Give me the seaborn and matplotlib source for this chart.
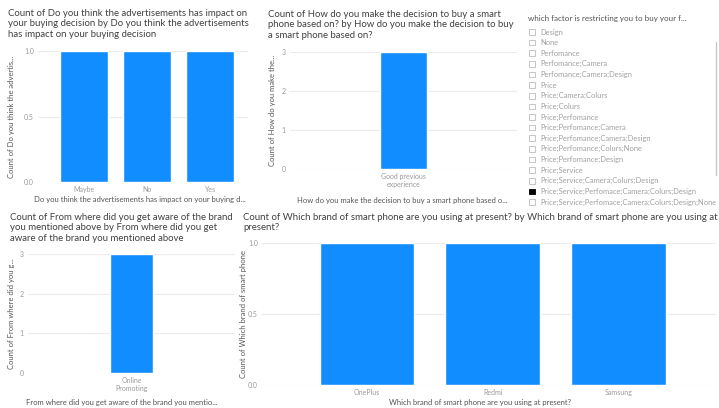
import matplotlib
matplotlib.use("Agg")
import matplotlib.pyplot as plt
import seaborn as sns
import pandas as pd
from matplotlib.lines import Line2D

# data
ads_categories = ["Maybe", "No", "Yes"]
ads_counts = [1, 1, 1]

decision_categories = ["Good previous\nexperience"]
decision_counts = [3]

aware_categories = ["Online\nPromoting"]
aware_counts = [3]

brand_categories = ["OnePlus", "Redmi", "Samsung"]
brand_counts = [1, 1, 1]

factor_items = [
    "Design", "None", "Perfomance", "Perfomance;Camera", "Perfomance;Camera;Design",
    "Price", "Price;Camera;Colurs", "Price;Colurs", "Price;Perfomance",
    "Price;Perfomance;Camera", "Price;Perfomance;Camera;Design",
    "Price;Perfomance;Colurs;None", "Price;Perfomance;Design", "Price;Service",
    "Price;Service;Camera;Colurs;Design",
    "Price;Service;Perfomace;Camera;Colurs;Design",
    "Price;Service;Perfomace;Camera;Colurs;Design;None",
]
factor_selected = "Price;Service;Perfomace;Camera;Colurs;Design"

BLUE = "#118DFF"
TITLE_C = "#404040"
LABEL_C = "#555555"
TICK_C = "#9a9a9a"

sns.set_theme(style="white")
plt.rcParams["font.family"] = ["Lato", "DejaVu Sans"]

W, H = 719, 408
fig = plt.figure(figsize=(W / 100, H / 100), dpi=100)
fig.patch.set_facecolor("white")


def px_axes(x0, y0, x1, y1):
    # pixel box (top-left origin) -> figure axes
    return fig.add_axes([x0 / W, 1 - y1 / H, (x1 - x0) / W, (y1 - y0) / H])


def bar_panel(box, cats, vals, width, xlim, yticks, yfmt, ylabel, xlabel,
              title, title_xy, ylabel_x, xlabel_xy):
    ax = px_axes(*box)
    df = pd.DataFrame({"cat": cats, "val": vals})
    sns.barplot(data=df, x="cat", y="val", color=BLUE, width=width,
                saturation=1, ax=ax, zorder=3)
    ax.set_xlim(*xlim)
    ax.set_ylim(yticks[0], yticks[-1])
    ax.set_yticks(yticks)
    ax.set_yticklabels([yfmt.format(t) for t in yticks])
    ax.grid(axis="y", color="#ececec", lw=0.8, zorder=0)
    ax.grid(axis="x", visible=False)
    for s in ax.spines.values():
        s.set_visible(False)
    ax.tick_params(length=0, labelsize=5, labelcolor=TICK_C, pad=3)
    ax.set_xlabel("")
    ax.set_ylabel("")
    fig.text(ylabel_x / W, 1 - (box[1] + box[3]) / 2 / H, ylabel, rotation=90,
             ha="center", va="center", fontsize=5.5, color=LABEL_C)
    fig.text(xlabel_xy[0] / W, 1 - xlabel_xy[1] / H, xlabel, ha="center",
             va="center", fontsize=5.5, color=LABEL_C)
    fig.text(title_xy[0] / W, 1 - title_xy[1] / H, title, ha="left", va="top",
             fontsize=6.9, color=TITLE_C, linespacing=1.2)
    return ax


bar_panel((38, 51, 248, 182), ads_categories, ads_counts, 0.76, (-0.73, 2.6),
          [0, 0.5, 1.0], "{:.1f}", "Count of Do you think the advertis...",
          "Do you think the advertisements has impact on your buying d...",
          "Count of Do you think the advertisements has impact on\n"
          "your buying decision by Do you think the advertisements\n"
          "has impact on your buying decision",
          (8, 9), 12, (140, 199))

bar_panel((290, 52, 517, 169), decision_categories, decision_counts, 0.207,
          (-0.5, 0.5), [0, 1, 2, 3], "{:.0f}", "Count of How do you make the...",
          "How do you make the decision to buy a smart phone based o...",
          "Count of How do you make the decision to buy a smart\n"
          "phone based on? by How do you make the decision to buy\n"
          "a smart phone based on?",
          (268, 10), 273, (402, 200))

bar_panel((28, 254, 235, 373), aware_categories, aware_counts, 0.208,
          (-0.5, 0.5), [0, 1, 2, 3], "{:.0f}", "Count of From where did you g...",
          "From where did you get aware of the brand you mentio...",
          "Count of From where did you get aware of the brand\n"
          "you mentioned above by From where did you get\n"
          "aware of the brand you mentioned above",
          (10, 213), 12, (122, 402))

bar_panel((262, 243, 716, 385), brand_categories, brand_counts, 0.755,
          (-0.835, 2.775), [0, 0.5, 1.0], "{:.1f}",
          "Count of Which brand of smart phone",
          "Which brand of smart phone are you using at present?",
          "Count of Which brand of smart phone are you using at present? by Which brand of smart phone are you using at\n"
          "present?",
          (243, 213), 244, (480, 402))

# slicer panel
sl = px_axes(528, 26.7, 719, 207.3)
n = len(factor_items)
rows = list(range(n))
sl.set_xlim(0, 1)
sl.set_ylim(n - 0.5, -0.5)
sl.axis("off")
faces = ["black" if it == factor_selected else "white" for it in factor_items]
edges = ["black" if it == factor_selected else "#bdbdbd" for it in factor_items]
sl.scatter([0.021] * n, rows, marker="s", s=16, c=faces, edgecolors=edges,
           linewidths=0.6, zorder=3)
for i, item in enumerate(factor_items):
    sl.text(0.063, i, item, ha="left", va="center", fontsize=5.4,
            color="#a0a0a0", clip_on=True)
fig.text(528 / W, 1 - 18 / H, "which factor is restricting you to buy your f...",
         ha="left", va="center", fontsize=5.8, color=LABEL_C)
fig.add_artist(Line2D([716 / W, 716 / W], [1 - 42 / H, 1 - 175 / H],
                      color="#c8c8c8", lw=1))

fig.savefig("out.png", dpi=100)
